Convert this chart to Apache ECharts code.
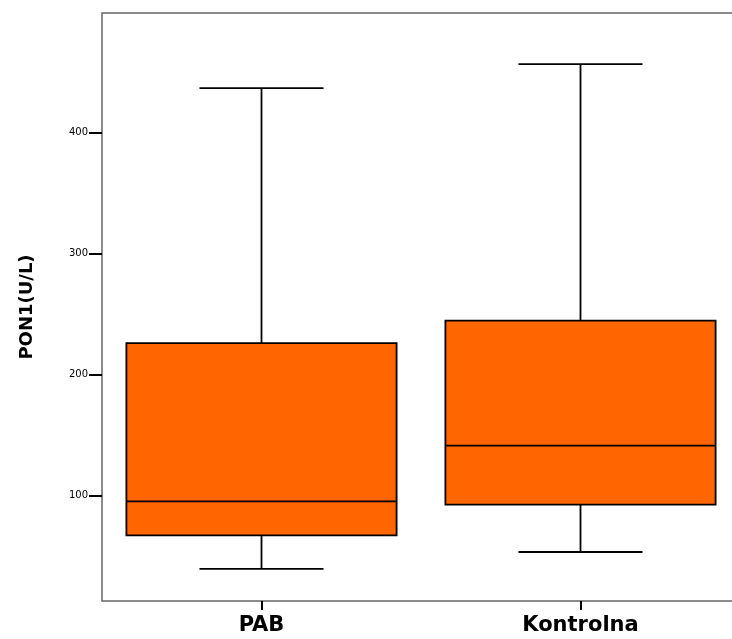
<!DOCTYPE html>
<html>
<head>
<meta charset="utf-8">
<script src="https://cdn.jsdelivr.net/npm/echarts@6/dist/echarts.min.js"></script>
<style>
html,body{margin:0;padding:0;background:#fff;overflow:hidden;width:732px;height:639px;}
#chart{width:740px;height:639px;}
</style>
</head>
<body>
<div id="chart"></div>
<script>
const categories = ['PAB', 'Kontrolna'];
const minVals = [39.5, 53.5];
const q1Vals = [67.2, 92.6];
const medianVals = [95.3, 141.5];
const q3Vals = [226.1, 244.8];
const maxVals = [436.9, 456.7];
const yTicks = [100, 200, 300, 400];

const chart = echarts.init(document.getElementById('chart'), null, {renderer: 'canvas'});

const data = categories.map((c, i) => [i, minVals[i], q1Vals[i], medianVals[i], q3Vals[i], maxVals[i]]);

function renderItem(params, api) {
  const idx = api.value(0);
  const band = api.size([1, 0])[0];
  const boxW = band * 0.847;
  const capW = band * 0.389;
  const pMin = api.coord([idx, api.value(1)]);
  const pQ1 = api.coord([idx, api.value(2)]);
  const pMed = api.coord([idx, api.value(3)]);
  const pQ3 = api.coord([idx, api.value(4)]);
  const pMax = api.coord([idx, api.value(5)]);
  const cx = pMed[0];
  const lineStyle = {stroke: '#000', lineWidth: 1.8, fill: null};
  return {
    type: 'group',
    children: [
      {type: 'line', shape: {x1: cx, y1: pMax[1], x2: cx, y2: pQ3[1]}, style: lineStyle},
      {type: 'line', shape: {x1: cx, y1: pQ1[1], x2: cx, y2: pMin[1]}, style: lineStyle},
      {type: 'line', shape: {x1: cx - capW / 2, y1: pMax[1], x2: cx + capW / 2, y2: pMax[1]}, style: lineStyle},
      {type: 'line', shape: {x1: cx - capW / 2, y1: pMin[1], x2: cx + capW / 2, y2: pMin[1]}, style: lineStyle},
      {type: 'rect', shape: {x: cx - boxW / 2, y: pQ3[1], width: boxW, height: pQ1[1] - pQ3[1]},
        style: {fill: '#FF6600', stroke: '#000', lineWidth: 1.8}},
      {type: 'line', shape: {x1: cx - boxW / 2, y1: pMed[1], x2: cx + boxW / 2, y2: pMed[1]}, style: lineStyle}
    ]
  };
}

chart.setOption({
  animation: false,
  backgroundColor: '#fff',
  grid: {
    left: 102, top: 13, bottom: 38, right: 0,
    show: true, borderColor: '#666', borderWidth: 1.5, containLabel: false
  },
  xAxis: {
    type: 'category',
    data: categories,
    boundaryGap: true,
    axisLine: {show: false},
    axisTick: {show: true, alignWithLabel: true, length: 9, lineStyle: {color: '#000', width: 2}},
    axisLabel: {
      margin: 14,
      fontFamily: 'DejaVu Sans',
      fontWeight: 'bold',
      fontSize: 21,
      color: '#000'
    },
    splitLine: {show: false}
  },
  yAxis: {
    type: 'value',
    min: 13,
    max: 499,
    name: 'PON1(U/L)',
    nameLocation: 'middle',
    nameGap: 66,
    nameRotate: 90,
    nameTextStyle: {fontFamily: 'DejaVu Sans', fontWeight: 'bold', fontSize: 18, color: '#000'},
    axisLine: {show: false},
    axisTick: {show: true, length: 13, customValues: yTicks, lineStyle: {color: '#000', width: 2}},
    axisLabel: {
      customValues: yTicks,
      margin: 14,
      fontFamily: 'DejaVu Sans',
      fontSize: 10,
      color: '#000'
    },
    splitLine: {show: false}
  },
  series: [{
    type: 'custom',
    renderItem: renderItem,
    data: data,
    encode: {x: 0, y: [1, 2, 3, 4, 5]},
    clip: false
  }]
});
</script>
</body>
</html>
